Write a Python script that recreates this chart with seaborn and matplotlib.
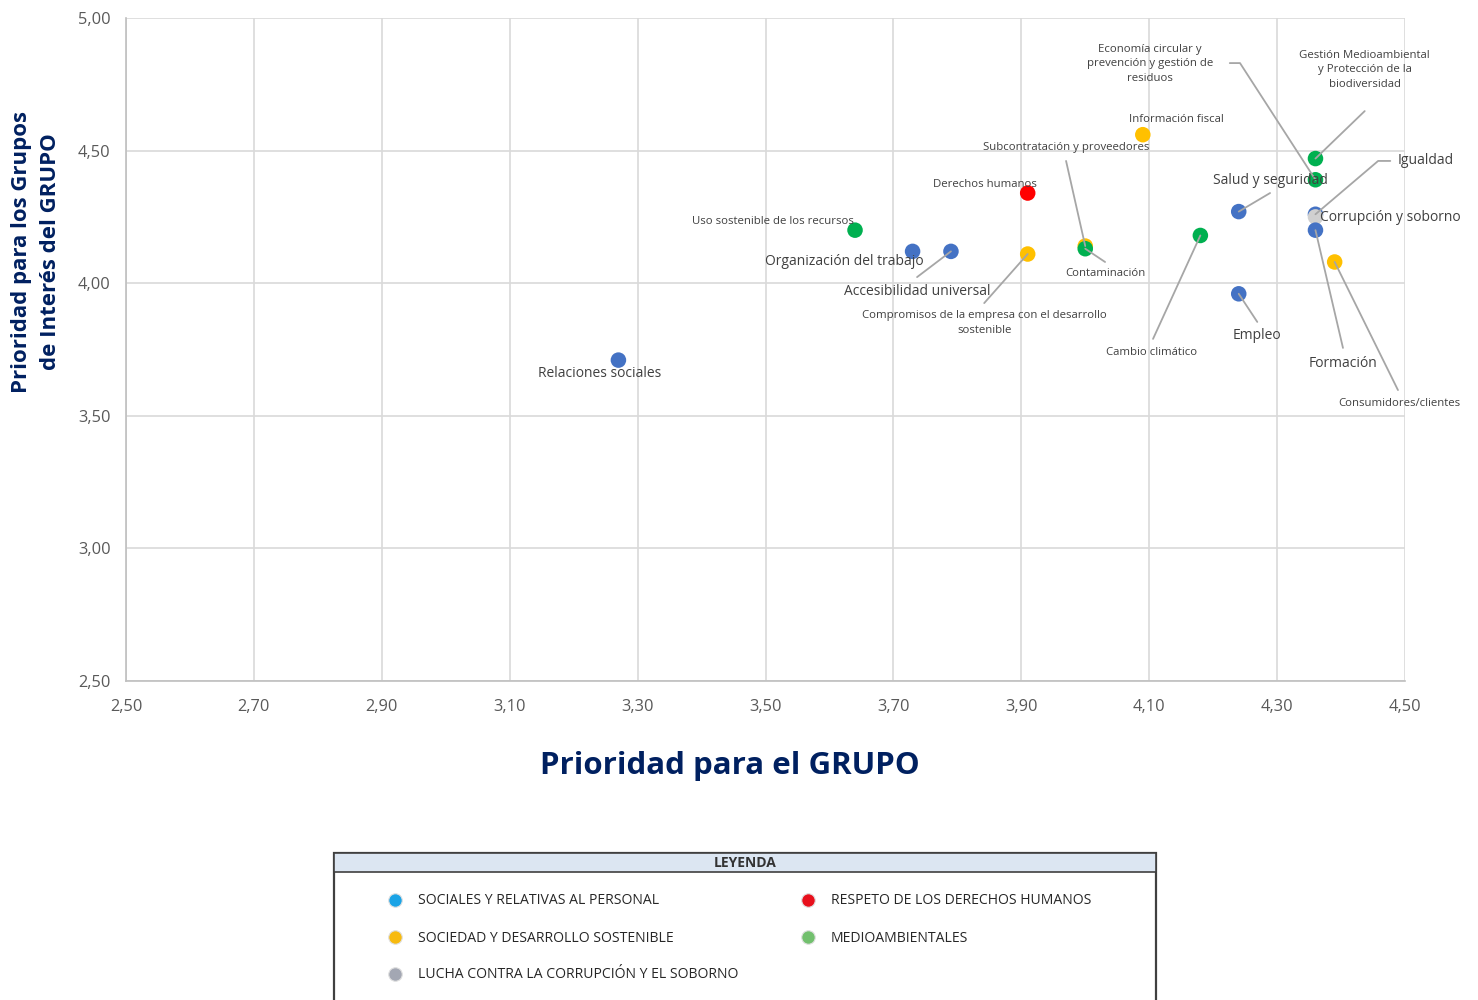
# Matriz de materialidad: prioridad para el GRUPO vs prioridad para los grupos de interés
import numpy as np
import pandas as pd
import matplotlib.pyplot as plt
import seaborn as sns
from matplotlib.ticker import FuncFormatter
from matplotlib.patches import Rectangle

# --- datos ---
temas = [
    'Relaciones sociales', 'Uso sostenible de los recursos', 'Organización del trabajo',
    'Accesibilidad universal', 'Derechos humanos',
    'Compromisos de la empresa con el desarrollo\nsostenible',
    'Subcontratación y proveedores', 'Contaminación', 'Información fiscal',
    'Cambio climático', 'Salud y seguridad', 'Empleo',
    'Gestión Medioambiental\ny Protección de la\nbiodiversidad',
    'Economía circular y\nprevención y gestión de\nresiduos',
    'Igualdad', 'Corrupción y soborno', 'Formación', 'Consumidores/clientes',
]
prioridad_grupo = [3.27, 3.64, 3.73, 3.79, 3.91, 3.91, 4.00, 4.00, 4.09,
                   4.18, 4.24, 4.24, 4.36, 4.36, 4.36, 4.36, 4.36, 4.39]
prioridad_interes = [3.71, 4.20, 4.12, 4.12, 4.34, 4.11, 4.14, 4.13, 4.56,
                     4.18, 4.27, 3.96, 4.47, 4.39, 4.26, 4.25, 4.20, 4.08]
categoria = ['soc', 'med', 'soc', 'soc', 'ddhh', 'sdd', 'sdd', 'med', 'sdd',
             'med', 'soc', 'soc', 'med', 'med', 'soc', 'cor', 'soc', 'sdd']

colores = {'soc': '#4472C4', 'sdd': '#FFC000', 'med': '#00B050',
           'ddhh': '#FF0000', 'cor': '#D0D0D0'}

xticks = np.arange(2.5, 4.51, 0.2)
yticks = np.arange(2.5, 5.01, 0.5)

leyenda_textos = ['SOCIALES Y RELATIVAS AL PERSONAL', 'SOCIEDAD Y DESARROLLO SOSTENIBLE',
                  'LUCHA CONTRA LA CORRUPCIÓN Y EL SOBORNO', 'RESPETO DE LOS DERECHOS HUMANOS',
                  'MEDIOAMBIENTALES']
leyenda_colores = ['#1AA3E6', '#F7BA0F', '#A3A7B3', '#E8101C', '#72C06E']

# posición de cada etiqueta (x, y, tamaño, puntos de la línea guía)
etiquetas = {
    0: (3.241, 3.661, 'g', None),
    1: (3.512, 4.231, 'p', None),
    2: (3.624, 4.080, 'g', None),
    3: (3.737, 3.967, 'g', [(3.737, 4.023)]),
    4: (3.843, 4.374, 'p', None),
    5: (3.842, 3.850, 'p', [(3.842, 3.925)]),
    6: (3.970, 4.510, 'p', [(3.970, 4.461)]),
    7: (4.032, 4.035, 'p', [(4.031, 4.080)]),
    8: (4.143, 4.619, 'p', None),
    9: (4.104, 3.737, 'p', [(4.106, 3.790)]),
    10: (4.289, 4.389, 'g', [(4.289, 4.340)]),
    11: (4.269, 3.801, 'g', [(4.269, 3.854)]),
    12: (4.437, 4.804, 'p', [(4.437, 4.649)]),
    13: (4.101, 4.827, 'p', [(4.226, 4.830), (4.242, 4.830)]),
    14: (4.533, 4.461, 'g', [(4.477, 4.461), (4.458, 4.461)]),
    15: (4.477, 4.246, 'g', None),
    16: (4.403, 3.699, 'g', [(4.403, 3.756)]),
    17: (4.491, 3.548, 'p', [(4.489, 3.597)]),
}

df = pd.DataFrame({'tema': temas, 'grupo': prioridad_grupo,
                   'interes': prioridad_interes, 'categoria': categoria})

sns.set_theme(style='white')
plt.rcParams['font.family'] = ['Open Sans', 'DejaVu Sans']
navy = '#002060'
texto = '#404040'

fig = plt.figure(figsize=(14.78, 10), dpi=100)
ax = fig.add_axes([126 / 1478, 1 - 681 / 1000, 1279 / 1478, 663 / 1000])

sns.scatterplot(data=df, x='grupo', y='interes', hue='categoria', palette=colores,
                s=125, linewidth=0, legend=False, ax=ax, zorder=3)

ax.set_xlim(2.5, 4.5)
ax.set_ylim(2.5, 5.0)
ax.set_xticks(xticks)
ax.set_yticks(yticks)
coma = FuncFormatter(lambda v, p: f'{v:.2f}'.replace('.', ','))
ax.xaxis.set_major_formatter(coma)
ax.yaxis.set_major_formatter(coma)
ax.grid(True, color='#D9D9D9', lw=1.2)
ax.set_axisbelow(True)
for s in ['top', 'right']:
    ax.spines[s].set_visible(False)
for s in ['left', 'bottom']:
    ax.spines[s].set_color('#BFBFBF')
    ax.spines[s].set_linewidth(1.2)
ax.tick_params(axis='both', length=0, labelsize=11.8, labelcolor='#595959')
ax.tick_params(axis='y', pad=11)
ax.tick_params(axis='x', pad=13)
ax.set_xlabel('')
ax.set_ylabel('')

# etiquetas y líneas guía
for i, (tx, ty, tam, guia) in etiquetas.items():
    px, py = prioridad_grupo[i], prioridad_interes[i]
    if guia:
        xs = [p[0] for p in guia] + [px]
        ys = [p[1] for p in guia] + [py]
        ax.plot(xs, ys, color='#A6A6A6', lw=1.3, zorder=4, clip_on=False)
    grande = tam == 'g'
    ax.text(tx, ty, temas[i], ha='center', va='center', color=texto,
            fontsize=10 if grande else 8.2, linespacing=1.2 if grande else 1.45,
            clip_on=False, zorder=5)

fig.text(730 / 1478, 1 - 766 / 1000, 'Prioridad para el GRUPO', ha='center', va='center',
         fontsize=22.5, fontweight='bold', color=navy)
fig.text(36 / 1478, 1 - 252 / 1000, 'Prioridad para los Grupos\nde Interés del GRUPO',
         ha='center', va='center', rotation=90, fontsize=16, fontweight='bold',
         color=navy, linespacing=1.55)

# cuadro de leyenda
lg = fig.add_axes([333 / 1478, 0, 824 / 1478, 148 / 1000])
lg.set_xlim(0, 824)
lg.set_ylim(148, 0)
lg.axis('off')
lg.add_patch(Rectangle((1, 1), 822, 160, facecolor='white', edgecolor='#404040',
                       lw=1.6, clip_on=False))
lg.add_patch(Rectangle((1, 1), 822, 19, facecolor='#DCE6F2', edgecolor='#404040',
                       lw=1.2, clip_on=False))
lg.text(412, 11, 'LEYENDA', ha='center', va='center', fontsize=10,
        fontweight='bold', color='#333333')
for k, (txt, col) in enumerate(zip(leyenda_textos, leyenda_colores)):
    c, r = (0, k) if k < 3 else (1, k - 3)
    x0 = 62 + c * 413
    y0 = 48 + r * 37
    lg.scatter([x0], [y0], s=95, color=col, edgecolor='#E0E0E0', lw=0.8, zorder=3)
    lg.text(x0 + 23, y0 + 1, txt, ha='left', va='center', fontsize=10.1,
            color='#262626')

plt.savefig('out.png', dpi=100)
